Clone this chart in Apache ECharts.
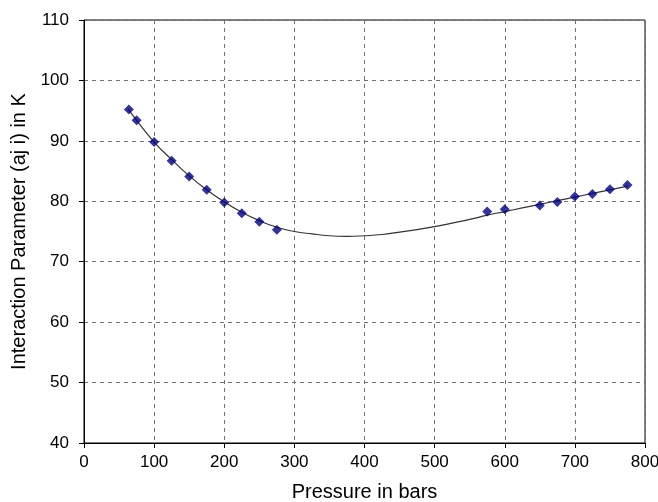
<!DOCTYPE html>
<html>
<head>
<meta charset="utf-8">
<script src="https://cdn.jsdelivr.net/npm/echarts@6/dist/echarts.min.js"></script>
<style>
  html, body { margin: 0; padding: 0; background: #fff; }
  #chart { width: 658px; height: 502px; }
</style>
</head>
<body>
<div id="chart"></div>
<script>
// measured points
const pressure = [64, 75, 100, 125, 150, 175, 200, 225, 250, 275, 575, 600, 650, 675, 700, 725, 750, 775]
const param = [95.2, 93.4, 89.8, 86.7, 84.1, 81.9, 79.8, 78.0, 76.6, 75.3, 78.3, 78.7, 79.3, 79.9, 80.8, 81.2, 82.0, 82.7]

// fitted curve
const fitX = [63, 75, 100, 125, 150, 175, 200, 225, 250, 275, 300, 325, 350, 375, 400, 425, 450, 475, 500, 525, 550, 575, 600, 625, 650, 675, 700, 725, 750, 775]
const fitY = [95.3, 93.4, 89.8, 86.9, 84.2, 81.9, 79.9, 78.2, 76.8, 75.7, 75.0, 74.6, 74.3, 74.2, 74.3, 74.5, 74.9, 75.3, 75.8, 76.4, 77.0, 77.7, 78.3, 78.9, 79.5, 80.1, 80.7, 81.3, 81.9, 82.5]

const chart = echarts.init(document.getElementById('chart'))

const dashed = { lineStyle: { color: '#707070', type: [4, 4], width: 1 } }

chart.setOption({
    animation: false,
    textStyle: { fontFamily: 'Liberation Sans, Arial, sans-serif', color: '#000' },
    grid: {
        left: 84, right: 13, top: 20, bottom: 59,
        outerBoundsMode: 'none', containLabel: false,
        show: true, borderColor: '#000', borderWidth: 1,
    },
    xAxis: {
        type: 'value',
        min: 0, max: 800, interval: 100,
        name: 'Pressure in bars',
        nameLocation: 'middle',
        nameGap: 39,
        nameTextStyle: { fontSize: 20, color: '#000' },
        axisLine: { lineStyle: { color: '#000' } },
        axisTick: { show: true, length: 5, lineStyle: { color: '#000' } },
        axisLabel: { fontSize: 17, color: '#000', margin: 11 },
        splitLine: dashed,
    },
    yAxis: {
        type: 'value',
        min: 40, max: 110, interval: 10,
        name: 'Interaction Parameter (aj i) in K',
        nameLocation: 'middle',
        nameGap: 54,
        nameTextStyle: { fontSize: 20, color: '#000' },
        axisLine: { show: true, lineStyle: { color: '#000' } },
        axisTick: { show: true, length: 5, lineStyle: { color: '#000' } },
        axisLabel: { fontSize: 17, color: '#000', margin: 15 },
        splitLine: dashed,
    },
    series: [
        {
            type: 'line',
            data: fitX.map((x, i) => [x, fitY[i]]),
            smooth: true,
            showSymbol: false,
            lineStyle: { color: '#333', width: 1.2 },
            z: 2,
        },
        {
            type: 'scatter',
            data: pressure.map((x, i) => [x, param[i]]),
            symbol: 'diamond',
            symbolSize: 10,
            itemStyle: { color: '#00007f' },
            z: 3,
        },
    ],
})
</script>
</body>
</html>
